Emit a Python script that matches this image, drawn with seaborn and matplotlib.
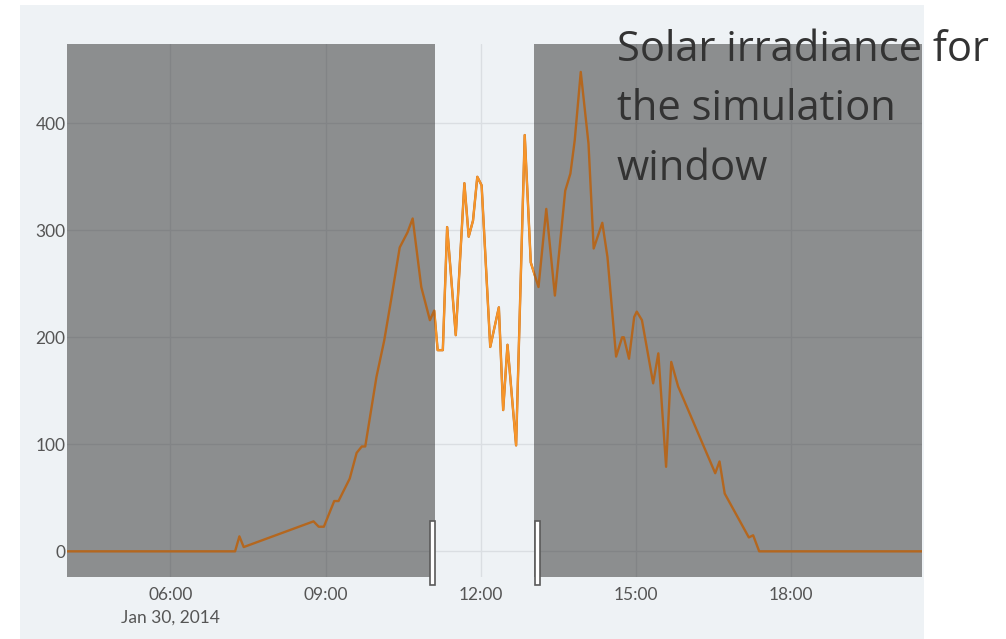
import seaborn as sns
import pandas as pd
import matplotlib.pyplot as plt
import matplotlib.dates as mdates
from matplotlib.patches import Rectangle

# solar irradiance readings, Jan 30 2014
day = "2014-01-30 "
times = ["04:00", "07:15", "07:20", "07:25", "08:46", "08:52", "08:58", "09:10",
         "09:15", "09:28", "09:36", "09:42", "09:46", "09:59", "10:08", "10:16",
         "10:26", "10:35", "10:41", "10:51", "11:01", "11:06", "11:10", "11:16",
         "11:21", "11:31", "11:41", "11:46", "11:51", "11:56", "12:01", "12:11",
         "12:21", "12:26", "12:31", "12:41", "12:51", "12:58", "13:07", "13:16",
         "13:26", "13:38", "13:44", "13:49", "13:56", "14:05", "14:11", "14:21",
         "14:27", "14:37", "14:44", "14:46", "14:52", "14:58", "15:01", "15:07",
         "15:20", "15:26", "15:35", "15:41", "15:49", "16:32", "16:37", "16:43",
         "17:11", "17:16", "17:23", "20:40"]
irradiance = [0, 0, 14, 4, 28, 23, 23, 47,
              47, 68, 92, 98, 98, 163, 197, 235,
              284, 298, 311, 247, 216, 225, 188, 188,
              303, 202, 344, 294, 309, 350, 342, 191,
              228, 132, 193, 99, 389, 270, 247, 320,
              239, 337, 353, 384, 448, 381, 283, 307,
              275, 182, 200, 200, 180, 219, 224, 216,
              157, 185, 79, 177, 154, 73, 84, 54,
              13, 15, 0, 0]
view = ["04:00", "20:32"]
window = ["11:07", "13:02"]
yticks = [0, 100, 200, 300, 400]
hour_ticks = [6, 9, 12, 15, 18]
date_label = "Jan 30, 2014"
note = "Solar irradiance for\nthe simulation\nwindow"

df = pd.DataFrame({"time": pd.to_datetime([day + t for t in times]),
                   "irradiance": irradiance})
x0, x1 = [pd.Timestamp(day + t) for t in view]
w0, w1 = [pd.Timestamp(day + t) for t in window]

BG = "#eef2f5"
DARK = "#b4671f"
BRIGHT = "#f7952a"

sns.set_style("whitegrid", {"axes.facecolor": BG, "grid.color": "#dadee2"})
plt.rcParams["font.family"] = ["Lato", "DejaVu Sans"]

fig = plt.figure(figsize=(10.06, 6.39), dpi=100, facecolor="white")
fig.add_artist(Rectangle((0.0199, 0), 0.8986, 0.992, transform=fig.transFigure,
                         facecolor=BG, edgecolor="none", zorder=-1))
ax = fig.add_axes([0.0666, 0.097, 0.85, 0.834])
ax.set_facecolor(BG)

sns.lineplot(data=df, x="time", y="irradiance", color=DARK, linewidth=1.7, ax=ax, zorder=5)
sns.lineplot(data=df, x="time", y="irradiance", color=BRIGHT, linewidth=1.5, ax=ax, zorder=6)
bright = ax.lines[-1]

# brushed-out areas
ax.axvspan(x0, w0, color="#282828", alpha=0.495, lw=0, zorder=3)
ax.axvspan(w1, x1, color="#282828", alpha=0.495, lw=0, zorder=3)
win = ax.axvspan(w0, w1, facecolor="none", edgecolor="none")
bright.set_clip_path(win)

# brush handles
hw = 6 / 1440
for hx in [mdates.date2num(w0) - hw, mdates.date2num(w1) + 1 / 1440]:
    ax.add_patch(Rectangle((hx, -0.015), hw, 0.12, transform=ax.get_xaxis_transform(),
                           facecolor="white", edgecolor="#5a5a5a", lw=1.2,
                           clip_on=False, zorder=8))

ax.set_xlim(x0, x1)
ax.set_ylim(-24, 474)
ax.set_yticks(yticks)
ax.xaxis.set_major_locator(mdates.HourLocator(byhour=hour_ticks))
ax.xaxis.set_major_formatter(mdates.DateFormatter("%H:%M"))
ax.annotate(date_label, xy=(pd.Timestamp(day + "06:00"), 0),
            xycoords=("data", "axes fraction"), xytext=(0, -29),
            textcoords="offset points", ha="center", va="center",
            fontsize=12.5, color="#555555", annotation_clip=False)

ax.grid(True, linewidth=1)
ax.set_axisbelow(True)
ax.tick_params(axis="both", length=0, labelsize=12.5, labelcolor="#555555")
ax.tick_params(axis="y", pad=1)
ax.tick_params(axis="x", pad=7)
for s in ax.spines.values():
    s.set_visible(False)
ax.set_xlabel("")
ax.set_ylabel("")

fig.text(0.613, 0.955, note, family=["Open Sans", "DejaVu Sans"], fontsize=30,
         color="#333333", va="top", ha="left", linespacing=1.55)

fig.savefig("out.png", dpi=100)
